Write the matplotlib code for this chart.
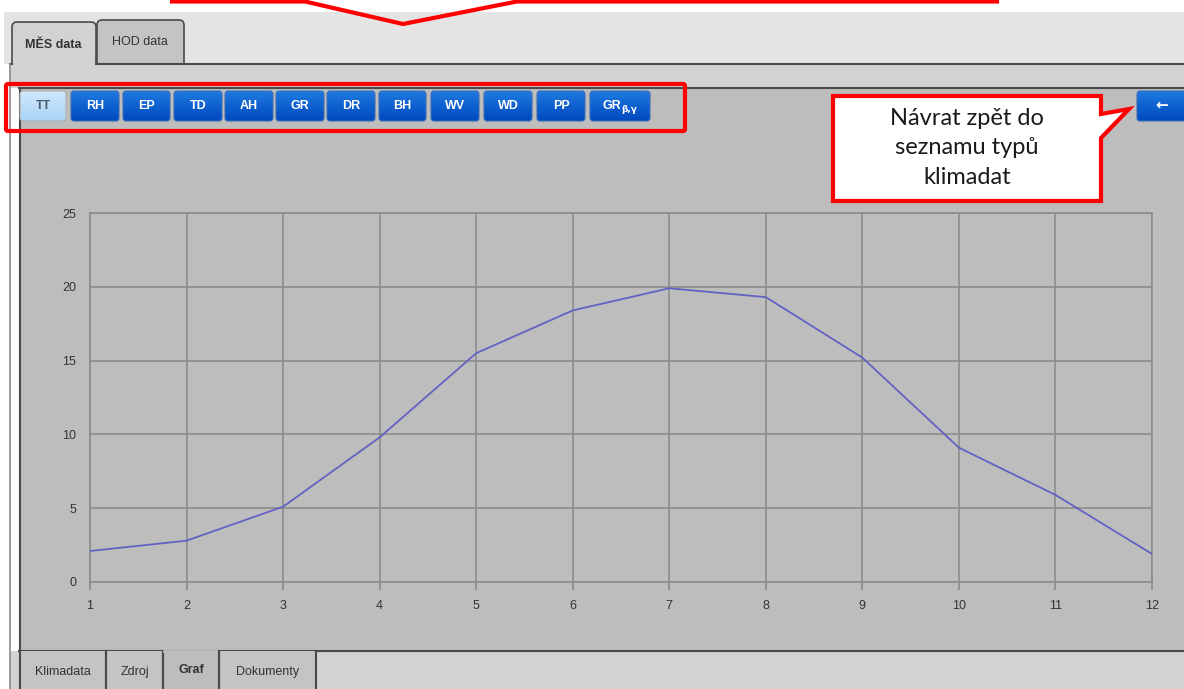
import numpy as np
import matplotlib
matplotlib.use('Agg')
import matplotlib.pyplot as plt
from matplotlib.patches import Rectangle, FancyBboxPatch, Polygon

# data
months = [1, 2, 3, 4, 5, 6, 7, 8, 9, 10, 11, 12]
temps = [2.1, 2.8, 5.1, 9.8, 15.5, 18.4, 19.9, 19.3, 15.2, 9.1, 5.9, 1.9]
yticks = [0, 5, 10, 15, 20, 25]

buttons = ['TT', 'RH', 'EP', 'TD', 'AH', 'GR', 'DR', 'BH', 'WV', 'WD', 'PP', 'GR']
btn_left = [20, 71, 123, 174, 225, 276, 327, 379, 431, 484, 537, 590]
btn_right = [66, 119, 170, 222, 273, 324, 375, 426, 479, 532, 585, 650]

top_tabs = ['MĚS data', 'HOD data']
bottom_tabs = ['Klimadata', 'Zdroj', 'Graf', 'Dokumenty']
bottom_edges = [20, 106, 163, 219, 316]

callout_text = 'Návrat zpět do\nseznamu typů\nklimadat'

W, H = 1184, 689
fig = plt.figure(figsize=(W / 100, H / 100), dpi=100)
fig.patch.set_facecolor('white')

# background "screen" drawn in pixel coordinates
bg = fig.add_axes([0, 0, 1, 1])
bg.set_xlim(0, W)
bg.set_ylim(H, 0)
bg.axis('off')

dark = '#4a4a4a'
band = '#d2d2d2'
bg.add_patch(Rectangle((4, 12), W, 52, fc='#e4e4e4', ec='none'))

# top tabs (drawn tall, then the band covers their lower part)
bg.add_patch(FancyBboxPatch((97, 20), 87, 60, boxstyle='round,pad=0,rounding_size=5',
                            fc='#c4c4c4', ec=dark, lw=1.2))
bg.add_patch(FancyBboxPatch((12, 22), 84, 60, boxstyle='round,pad=0,rounding_size=5',
                            fc=band, ec=dark, lw=1.2))
bg.add_patch(Rectangle((10, 64), W, 24, fc=band, ec='none', zorder=1.5))
bg.add_patch(Rectangle((13, 60), 82, 6, fc=band, ec='none', zorder=1.6))
bg.plot([96, W], [64, 64], color=dark, lw=1.5, zorder=1.7)
bg.plot([10, 12], [64, 64], color=dark, lw=1.5, zorder=1.7)
bg.text(53, 45, top_tabs[0], ha='center', va='center', fontsize=9,
        fontweight='bold', color='#333333', family='Liberation Sans')
bg.text(140, 42, top_tabs[1], ha='center', va='center', fontsize=9,
        color='#333333', family='Liberation Sans')

bg.add_patch(Rectangle((19, 88), W, 563, fc='#bdbdbd', ec='none', zorder=1.5))
bg.add_patch(Rectangle((10, 651), W, 40, fc=band, ec='none', zorder=1.5))
bg.plot([19, W], [88, 88], color=dark, lw=1.5, zorder=1.7)
bg.plot([10, 10], [64, H], color='#8a8a8a', lw=1.2, zorder=1.7)
bg.plot([19.5, 19.5], [88, H], color=dark, lw=1.5, zorder=1.7)
bg.plot([19, W], [651, 651], color=dark, lw=1.5, zorder=1.7)

# red annotation box at the very top
bg.plot([172, 305, 403, 517, 997], [1.5, 1.5, 24, 1.5, 1.5], color='#ff0000', lw=3,
        solid_joinstyle='miter')


def blue_button(x0, x1, y0, y1, light=False):
    box = FancyBboxPatch((x0, y0), x1 - x0, y1 - y0,
                         boxstyle='round,pad=0,rounding_size=3',
                         fc='none', ec='#b0b0b0' if light else '#3d6fb8', lw=0.8, zorder=3)
    bg.add_patch(box)
    grad = np.linspace(0, 1, 30).reshape(-1, 1)
    if light:
        cmap = matplotlib.colors.LinearSegmentedColormap.from_list('l', ['#cfe8fc', '#a9d3f6'])
    else:
        cmap = matplotlib.colors.LinearSegmentedColormap.from_list('b', ['#1f7ae0', '#0048bf'])
    im = bg.imshow(grad, extent=(x0, x1, y1, y0), cmap=cmap, aspect='auto', zorder=2,
                   origin='upper')
    im.set_clip_path(box)


for i, (lab, l, r) in enumerate(zip(buttons, btn_left, btn_right)):
    blue_button(l, r, 91, 121, light=(i == 0))
    col = '#4a5a6a' if i == 0 else 'white'
    if i == len(buttons) - 1:
        bg.text(621, 106, lab, ha='right', va='center', fontsize=9, fontweight='bold',
                color=col, family='Liberation Sans', zorder=4)
        bg.text(621, 110, 'β,γ', ha='left', va='center', fontsize=6.5, fontweight='bold',
                color=col, family='DejaVu Sans', zorder=4)
    else:
        bg.text((l + r) / 2, 106, lab, ha='center', va='center', fontsize=9,
                fontweight='bold', color=col, family='Liberation Sans', zorder=4)

bg.add_patch(FancyBboxPatch((6, 84), 679, 47, boxstyle='round,pad=0,rounding_size=2',
                            fc='none', ec='#ff0000', lw=3, zorder=5))

# back button
blue_button(1137, 1190, 91, 121)
bg.text(1162, 105, '←', ha='center', va='center', fontsize=11, fontweight='bold',
        color='white', family='DejaVu Sans', zorder=4)

# callout
callout = Polygon([(833, 96), (1101, 96), (1101, 114), (1129, 109), (1101, 138),
                   (1101, 201), (833, 201)], closed=True, fc='white', ec='#ff0000',
                  lw=3, joinstyle='miter', zorder=5)
bg.add_patch(callout)
bg.text(967, 148, callout_text, ha='center', va='center', fontsize=17,
        family='Lato', color='#1a1a1a', linespacing=1.5, zorder=6)

# bottom tabs
for k, lab in enumerate(bottom_tabs):
    l, r = bottom_edges[k], bottom_edges[k + 1]
    active = lab == 'Graf'
    bg.add_patch(Rectangle((l, 651), r - l, 40, fc='#bdbdbd' if active else '#c4c4c4',
                           ec='none', zorder=1.8))
    bg.plot([l, l], [651, H], color=dark, lw=1.5, zorder=1.9)
    bg.plot([r, r], [651, H], color=dark, lw=1.5, zorder=1.9)
    if active:
        bg.plot([l + 1, r - 1], [651, 651], color='#bdbdbd', lw=2, zorder=1.9)
    bg.text((l + r) / 2, 670 if active else 672, lab, ha='center', va='center',
            fontsize=9, fontweight='bold' if active else 'normal', color='#333333',
            family='Liberation Sans', zorder=2)

# the chart itself
ax = fig.add_axes([90 / W, (H - 582) / H, 1062 / W, 369 / H])
ax.set_facecolor('#bdbdbd')
ax.plot(months, temps, color='#6262c4', lw=1.3, zorder=3)
ax.set_xlim(1, 12)
ax.set_ylim(0, 25)
ax.set_xticks(months)
ax.set_yticks(yticks)
ax.grid(True, color='#8c8c8c', lw=1.2)
for s in ax.spines.values():
    s.set_color('#8c8c8c')
    s.set_linewidth(1.2)
ax.tick_params(axis='x', length=6, width=1.2, color='#8c8c8c', pad=7,
               labelsize=9, labelcolor='#333333')
ax.tick_params(axis='y', length=0, pad=10, labelsize=9, labelcolor='#333333')
for t in ax.get_xticklabels() + ax.get_yticklabels():
    t.set_family('Liberation Sans')

fig.savefig('out.png', dpi=100, facecolor='white')
